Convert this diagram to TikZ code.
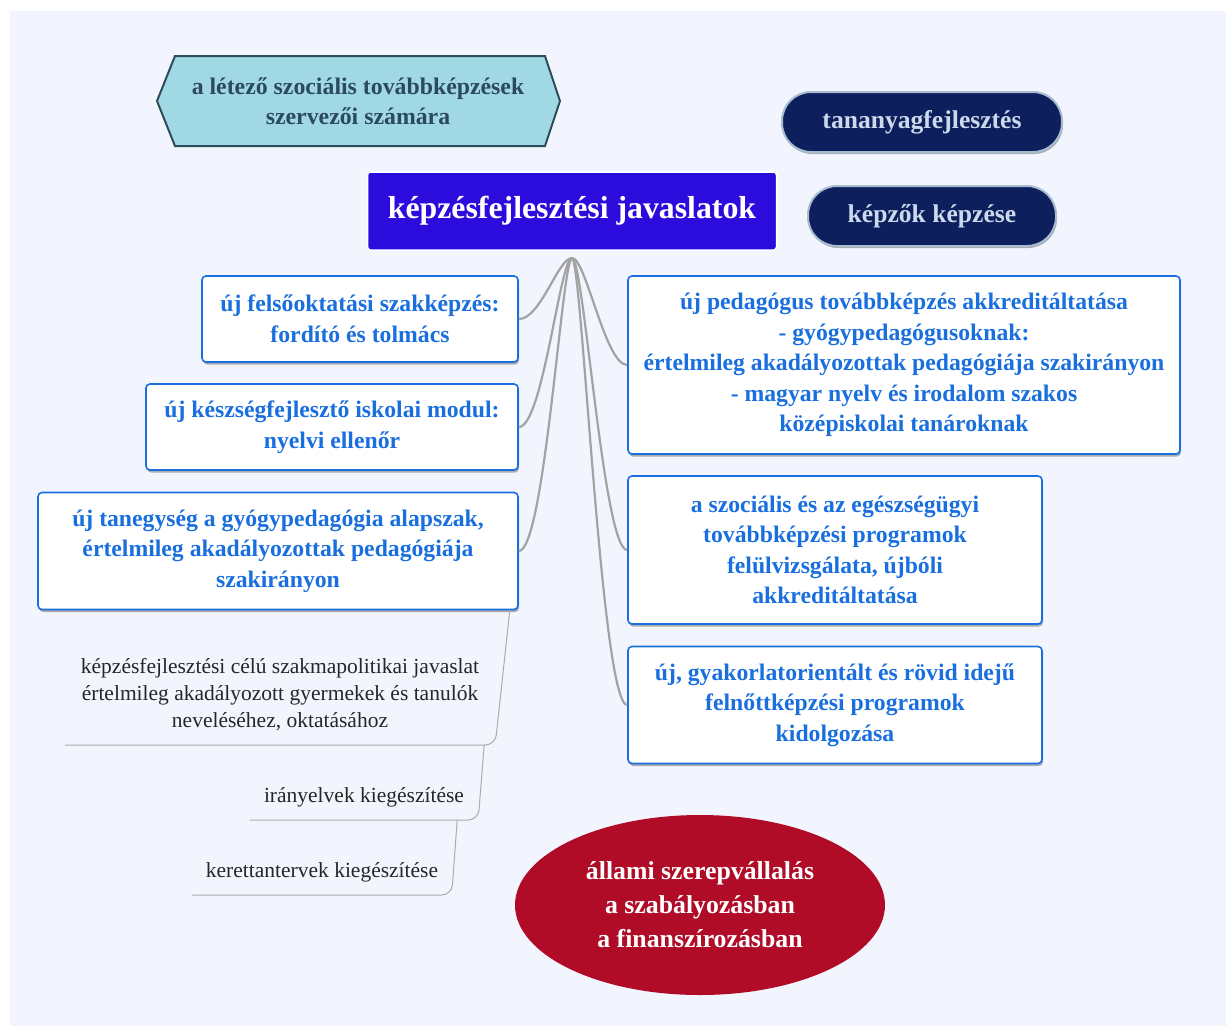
\documentclass[tikz,border=0pt]{standalone}
\usepackage{fontspec}
\setmainfont{Liberation Serif}
\usetikzlibrary{shapes.geometric,shadows,positioning}

\definecolor{panel}{HTML}{F2F5FD}
\definecolor{hexfill}{HTML}{A0D8E4}
\definecolor{hexdraw}{HTML}{2E4D5C}
\definecolor{hextext}{HTML}{2B4A5E}
\definecolor{titlefill}{HTML}{2C0CDD}
\definecolor{navy}{HTML}{0E1F5E}
\definecolor{pilltext}{HTML}{CBD9EA}
\definecolor{pillrim}{HTML}{A8BCCF}
\definecolor{boxblue}{HTML}{1A6FDF}
\definecolor{linkgray}{HTML}{A3A3A3}
\definecolor{statered}{HTML}{B00C28}

\tikzset{
  idea/.style={draw=boxblue, line width=1.6pt, fill=white, rounded corners=4pt,
    text=boxblue, align=center, inner sep=0pt,
    font=\bfseries\fontsize{23.7}{30.5}\selectfont,
    drop shadow={shadow xshift=1pt, shadow yshift=-2.5pt, opacity=0.3, fill=black}},
  pill/.style={draw=pillrim, line width=2pt, fill=navy, rounded corners=29pt,
    text=pilltext, inner sep=0pt, font=\bfseries\fontsize{25.6}{30}\selectfont,
    drop shadow={shadow xshift=1pt, shadow yshift=-2pt, opacity=0.3, fill=black}},
  sub/.style={align=center, inner sep=0pt, text=black!85,
    font=\fontsize{21.5}{27}\selectfont},
  link/.style={draw=linkgray, line width=2.2pt},
  sublink/.style={draw=linkgray!90, line width=1pt, rounded corners=10pt},
}

\begin{document}
\begin{tikzpicture}[x=1pt,y=-1pt]
  \useasboundingbox (0,0) rectangle (1226,1026);
  \fill[panel] (10,11) rectangle (1226,1026);

  % hexagon
  \fill[hexfill] (157,101) -- (175,56) -- (545,56) -- (560,101) -- (545,146) -- (175,146) -- cycle;
  \draw[hexdraw, line width=2pt] (157,101) -- (175,56) -- (545,56) -- (560,101) -- (545,146) -- (175,146) -- cycle;
  \node[align=center, text=hextext, font=\bfseries\fontsize{23.8}{30}\selectfont] (target) at (358,101)
    {a létező szociális továbbképzések\\szervezői számára};

  % central topic
  \node[draw=white, line width=1.5pt, fill=titlefill, rounded corners=3pt, text=white,
    minimum width=409pt, minimum height=78pt, inner sep=0pt,
    font=\bfseries\fontsize{31.8}{36}\selectfont] (title) at (572,211) {képzésfejlesztési javaslatok};
  \coordinate (hub) at (572,258);

  % pills
  \node[pill, minimum width=280pt, minimum height=60pt] (tan) at (922,122) {tananyagfejlesztés};
  \node[pill, minimum width=248pt, minimum height=60pt] (kep) at (932,216) {képzők képzése};

  % left ideas
  \node[idea, minimum width=316pt, minimum height=86pt] (fA) at (360,319)
    {új felsőoktatási szakképzés:\\fordító és tolmács};
  \node[idea, minimum width=372pt, minimum height=86pt] (fB) at (332,427)
    {új készségfejlesztő iskolai modul:\\nyelvi ellenőr};
  \node[idea, minimum width=480pt, minimum height=117pt] (fC) at (278,551)
    {új tanegység a gyógypedagógia alapszak,\\értelmileg akadályozottak pedagógiája\\szakirányon};

  % right ideas
  \node[idea, minimum width=552pt, minimum height=178pt] (fD) at (904,365)
    {új pedagógus továbbképzés akkreditáltatása\\- gyógypedagógusoknak:\\értelmileg akadályozottak pedagógiája szakirányon\\- magyar nyelv és irodalom szakos\\középiskolai tanároknak};
  \node[idea, minimum width=414pt, minimum height=148pt] (fE) at (835,550)
    {a szociális és az egészségügyi\\továbbképzési programok\\felülvizsgálata, újbóli\\akkreditáltatása};
  \node[idea, minimum width=414pt, minimum height=117pt] (fF) at (835,705)
    {új, gyakorlatorientált és rövid idejű\\felnőttképzési programok\\kidolgozása};

  % branches
  \draw[link] (hub) .. controls +(-14,0) and +(22,0) .. (fA.east);
  \draw[link] (hub) .. controls +(-12,0) and +(24,0) .. (fB.east);
  \draw[link] (hub) .. controls +(-10,0) and +(26,0) .. (fC.east);
  \draw[link] (hub) .. controls +(14,0) and +(-22,0) .. (fD.west);
  \draw[link] (hub) .. controls +(12,0) and +(-24,0) .. (fE.west);
  \draw[link] (hub) .. controls +(10,0) and +(-26,0) .. (fF.west);

  % sub-items
  \node[sub, anchor=south, minimum width=430pt, minimum height=100pt] (s1) at (280,745)
    {képzésfejlesztési célú szakmapolitikai javaslat\\értelmileg akadályozott gyermekek és tanulók\\neveléséhez, oktatásához};
  \node[sub, anchor=south, minimum width=228pt, minimum height=44pt] (s2) at (364,820)
    {irányelvek kiegészítése};
  \node[sub, anchor=south, minimum width=259pt, minimum height=44pt] (s3) at (322,895)
    {kerettantervek kiegészítése};
  \draw[sublink] (s1.south west) -- (s1.south east) -- ([xshift=-9pt]fC.south east);
  \draw[sublink] (s2.south west) -- (s2.south east) -- ([xshift=-11pt]s1.south east);
  \draw[sublink] (s3.south west) -- (s3.south east) -- ([xshift=-21pt]s2.south east);

  % state role
  \node[ellipse, fill=statered, text=white, minimum width=370pt, minimum height=180pt,
    inner sep=0pt, align=center, font=\bfseries\fontsize{25.8}{34}\selectfont] (state) at (700,905)
    {állami szerepvállalás\\a szabályozásban\\a finanszírozásban};
\end{tikzpicture}
\end{document}
